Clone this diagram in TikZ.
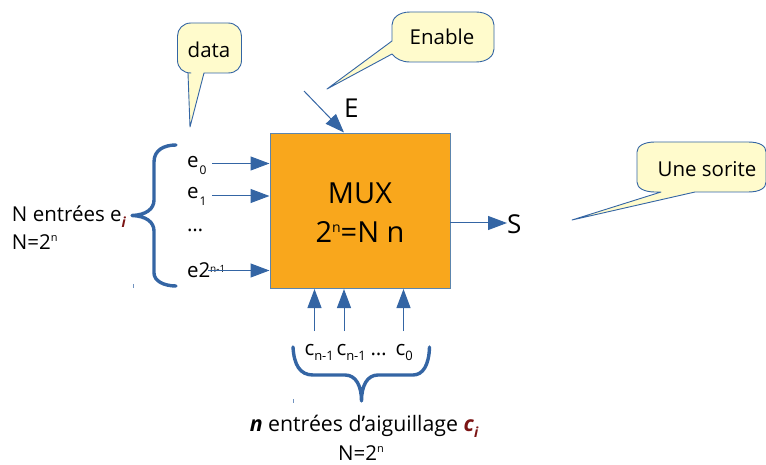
\documentclass[tikz,border=0pt]{standalone}
\usepackage{fontspec}
\setmainfont{Open Sans}
\definecolor{lnblue}{HTML}{3465A4}
\definecolor{boxedge}{HTML}{5C85AD}
\definecolor{muxfill}{HTML}{F9A71C}
\definecolor{callfill}{HTML}{FFFBCC}
\definecolor{darkred}{HTML}{7B1414}
\usetikzlibrary{arrows.meta,calc}
\tikzset{
  sig/.style={draw=lnblue,line width=1pt,-{Triangle[length=19pt,width=14pt,fill=lnblue]},shorten >=0pt},
  callout/.style={draw=lnblue,line width=0.9pt,fill=callfill,line join=round},
  bracepath/.style={draw=lnblue,line width=3.4pt,line cap=round,line join=round},
  lab/.style={inner sep=0pt,outer sep=0pt,text=black},
  txt/.style={lab,font=\fontsize{20.5}{24}\selectfont},
  big/.style={lab,font=\fontsize{29}{34}\selectfont},
  small/.style={lab,font=\fontsize{20.5}{24}\selectfont},
}
\newcommand{\sbs}[1]{\raisebox{-5pt}{\fontsize{13}{14}\selectfont #1}}
\newcommand{\sbe}[1]{\hspace{1pt}\raisebox{-7pt}{\fontsize{12}{14}\selectfont #1}}
\begin{document}
\begin{tikzpicture}[x=1pt,y=-1pt]
\useasboundingbox (0,0) rectangle (766,465);
% MUX block
\node[draw=boxedge,line width=1pt,fill=muxfill,minimum width=180pt,minimum height=155pt,inner sep=0pt,anchor=north west] (mux) at (269.5,133) {};
\node[big] (muxa) at (360,193) {MUX};
\node[big] (muxb) at (360,232) {2\raisebox{10pt}{\fontsize{14}{16}\selectfont n}=N n};
% callouts
\path[callout] (191,23) -- (228,23) .. controls (236,23) and (241.5,29) .. (241.5,36) -- (241.5,60) .. controls (241.5,68) and (236,73) .. (228,73) -- (204,73) -- (190,127) -- (188,73) -- (191,73) .. controls (183,73) and (177.5,68) .. (177.5,60) -- (177.5,36) .. controls (177.5,29) and (183,23) .. (191,23) -- cycle;
\node[txt] (tdata) at (209,50) {data};
\path[callout] (410,12) -- (476,12) .. controls (487,12) and (494,18) .. (494,25) -- (494,49) .. controls (494,56) and (487,62) .. (476,62) -- (410,62) .. controls (402,62) and (396,59) .. (392,54) -- (327,89) -- (392,41) -- (392,25) .. controls (392,18) and (399,12) .. (410,12) -- cycle;
\node[txt] (tenable) at (442,37) {Enable};
\path[callout] (655,142) -- (748,142) .. controls (760,142) and (766,146) .. (766,152) -- (766,182) .. controls (766,188) and (760,192) .. (748,192) -- (695,192) -- (572,220) -- (661,192) -- (655,192) .. controls (644,192) and (637,188) .. (637,182) -- (637,152) .. controls (637,146) and (644,142) .. (655,142) -- cycle;
\node[txt] (tsor) at (707,169) {Une sorite};
% data inputs
\node[small,anchor=base west] (e0) at (187,168) {e\sbe{0}};
\node[small,anchor=base west] (e1) at (187,199) {e\sbe{1}};
\node[small,anchor=base west] (edots) at (187,232) {\ldots};
\node[small,anchor=base west] (e2) at (187,277) {e2\raisebox{5pt}{\fontsize{10}{11}\selectfont n-1}};
\coordinate (a0) at (212,163.5);
\coordinate (a1) at (212,196);
\coordinate (a2) at (208,270.5);
\draw[sig] (a0) -- (a0-|mux.west);
\draw[sig] (a1) -- (a1-|mux.west);
\draw[sig] (a2) -- (a2-|mux.west);
% enable
\coordinate (en) at (304,91);
\coordinate (enb) at (344,132.5);
\draw[sig] (en) -- (enb);
\node[lab,anchor=base west,font=\fontsize{26}{30}\selectfont] (E) at (344,118) {E};
% output
\node[lab,anchor=base west,font=\fontsize{26}{30}\selectfont] (S) at (507,234) {S};
\coordinate (so) at (450,223);
\draw[sig] (so) -- (S.west|-so);
% selects
\foreach \n/\x in {s1/314.5,s2/344,s3/403.5}{
  \coordinate (\n) at (\x,331);
  \draw[sig] (\n) -- (\n|-mux.south);
}
\node[small,anchor=base west] (c1) at (304.5,355) {c\sbs{n-1}};
\node[small,anchor=base west] (c2) at (336.5,355) {c\sbs{n-1}};
\node[small,anchor=base west] (c3) at (370.5,355) {\ldots};
\node[small,anchor=base west] (c4) at (395.5,355) {c\sbs{0}};
% braces
\path[bracepath] (176,145) .. controls (164,145) and (154,150) .. (154,162) -- (154,200) .. controls (154,209) and (146,215) .. (132,215.5) .. controls (146,216) and (154,222) .. (154,231) -- (154,273) .. controls (154,281) and (164,286) .. (176,286);
\path[bracepath] (293,347) .. controls (294,365) and (300,375) .. (313,375) -- (345,375) .. controls (356,375) and (361.5,386) .. (361.5,401) .. controls (361.5,386) and (367,375) .. (378,375) -- (413,375) .. controls (423,375) and (429,365) .. (429.5,347);
% left label
\node[txt,anchor=base west] (lN) at (12,222) {N entrées e\raisebox{-6pt}{\fontsize{14}{16}\selectfont\bfseries\itshape\textcolor{darkred}{i}}};
\node[txt,anchor=base west] (lP) at (12,250) {N=2\raisebox{8pt}{\fontsize{11}{12}\selectfont n}};
% bottom label
\node[lab,font=\fontsize{21.3}{25}\selectfont,anchor=base] (bN) at (364,431) {\textbf{\textit{n}} entrées d’aiguillage \textcolor{darkred}{\textbf{\textit{c}}}\raisebox{-6pt}{\fontsize{14}{16}\selectfont\bfseries\itshape\textcolor{darkred}{i}}};
\node[txt,anchor=base] (bP) at (361,460) {N=2\raisebox{8pt}{\fontsize{11}{12}\selectfont n}};
% specks
\draw[lnblue!70,line width=0.6pt] (133,284) -- (133,288);
\draw[lnblue!70,line width=0.6pt] (293,399) -- (293,403);
\end{tikzpicture}
\end{document}
